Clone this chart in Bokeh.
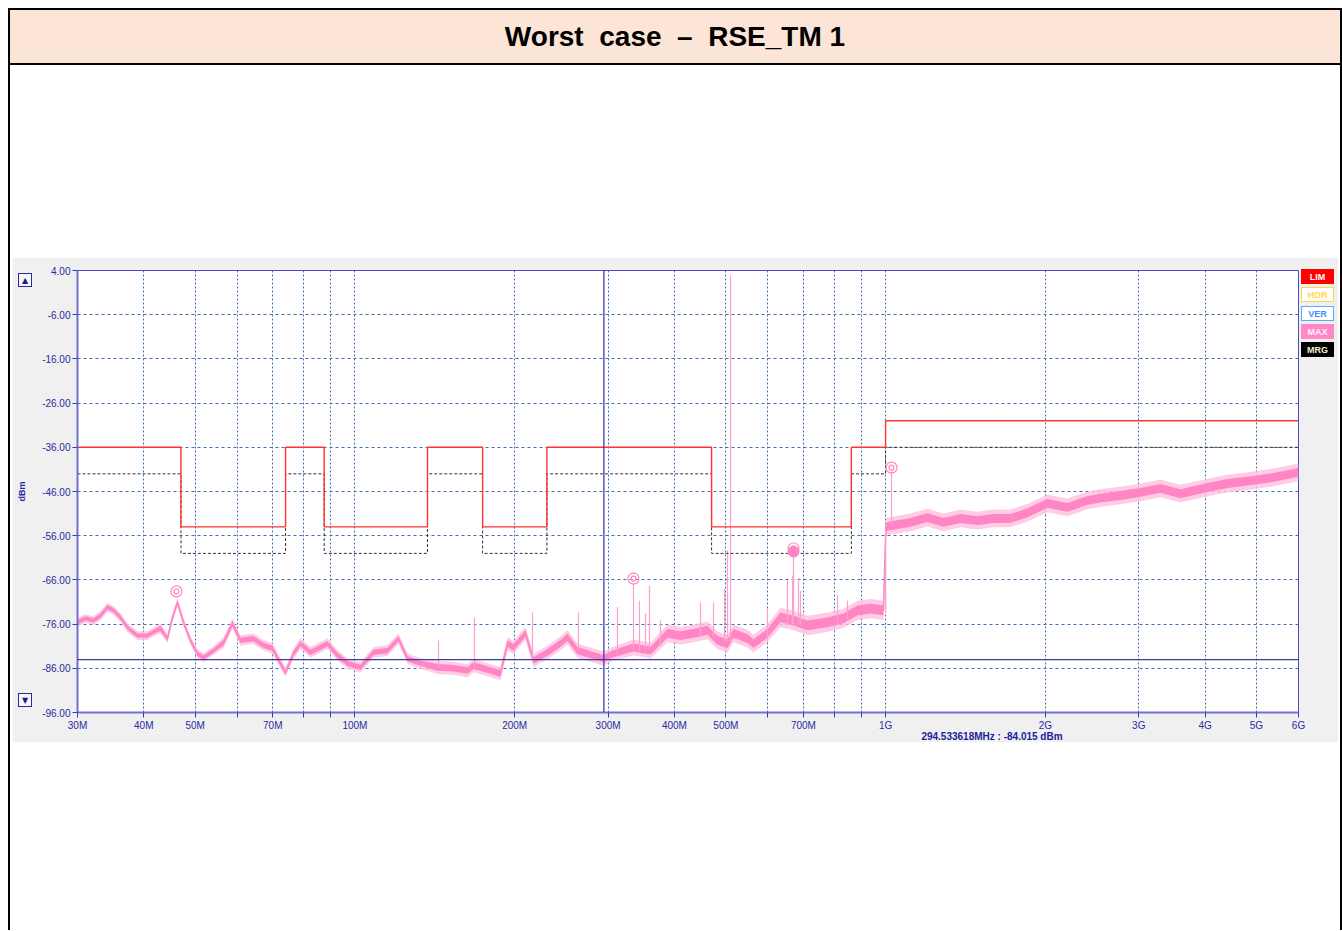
from bokeh.plotting import figure
from bokeh.models import (Range1d, FixedTicker, NumeralTickFormatter, Span, Div)
from bokeh.layouts import column, row
from bokeh.embed import file_html
from bokeh.resources import INLINE

# ---------------- data ----------------
title_text = "Worst  case  \u2013  RSE_TM 1"

x_ticks = [30, 40, 50, 60, 70, 80, 90, 100, 200, 300, 400, 500, 600, 700, 800, 900,
           1000, 2000, 3000, 4000, 5000, 6000]
x_tick_labels = ["30M", "40M", "50M", "", "70M", "", "", "100M", "200M", "300M", "400M",
                 "500M", "", "700M", "", "", "1G", "2G", "3G", "4G", "5G", "6G"]
y_ticks = [4, -6, -16, -26, -36, -46, -56, -66, -76, -86, -96]

# limit (LIM) and margin (MRG) lines, MHz / dBm, step "after"
lim_freq = [30, 47, 74, 87.5, 137, 174, 230, 470, 862, 1000, 6000]
lim_level = [-36, -54, -36, -54, -36, -54, -36, -54, -36, -30, -30]
mrg_level = [-42, -60, -42, -60, -42, -60, -42, -60, -42, -36, -36]

# MAX trace: frequency (MHz), centre level (dBm), band spread (dB)
trace_freq = [30.0, 31.06, 32.16, 33.15, 34.17, 35.07, 36.15, 37.27, 38.92, 40.64, 42.08,
              43.0, 44.33, 45.3, 46.3, 47.52, 48.98, 50.5, 51.83, 54.13, 56.53, 58.78,
              60.85, 64.39, 67.24, 69.92, 72.39, 73.97, 76.58, 78.95, 82.45, 85.36, 88.77,
              92.71, 96.82, 102.4, 108.4, 115.2, 120.8, 125.6, 132.9, 143.1, 153.4, 163.0,
              167.3, 180.1, 188.0, 193.9, 199.0, 209.6, 217.0, 230.6, 243.9, 251.5, 262.6,
              281.5, 294.0, 307.0, 334.9, 360.5, 388.1, 410.6, 434.5, 461.6, 482.2, 503.6,
              516.8, 549.2, 563.7, 598.9, 633.7, 670.6, 712.6, 777.3, 833.1, 885.2, 936.5,
              990.9, 1000.5, 1008, 1114, 1199, 1285, 1384, 1490, 1597, 1719, 1851, 2019,
              2202, 2402, 2574, 2771, 3022, 3296, 3595, 4043, 4409, 4936, 5383, 5871, 6000]
trace_level = [-75.6, -74.7, -75.2, -74.1, -72.2, -72.9, -74.5, -76.8, -78.6, -78.6, -77.5,
               -77.0, -79.3, -74.5, -71.1, -75.6, -79.7, -82.7, -83.6, -82.0, -80.2, -75.9,
               -79.7, -79.3, -80.8, -81.5, -84.9, -86.9, -82.7, -80.4, -82.4, -81.5, -80.4,
               -83.1, -84.9, -85.8, -82.4, -82.0, -79.3, -83.8, -84.9, -85.8, -86.0, -86.5,
               -85.4, -86.5, -87.2, -80.4, -81.3, -78.1, -84.2, -82.4, -80.4, -79.0, -82.0,
               -83.1, -83.8, -82.7, -81.3, -82.0, -78.1, -78.6, -78.1, -77.4, -79.7, -80.4,
               -78.1, -79.3, -80.4, -78.1, -74.5, -75.2, -76.3, -75.6, -74.7, -72.9, -72.5,
               -72.9, -54.5, -53.9, -53.0, -51.9, -53.0, -52.1, -52.6, -52.1, -52.1, -50.8,
               -48.7, -49.6, -48.0, -47.4, -46.9, -46.2, -45.3, -46.5, -45.1, -44.2, -43.5,
               -42.8, -41.9, -41.6]
trace_spread = [1.0, 1.0, 1.0, 1.0, 1.0, 1.0, 1.0, 1.0, 1.0, 1.0, 1.0,
                1.2, 1.0, 1.0, 1.0, 1.0, 1.0, 1.0, 1.0, 1.0, 1.2, 1.2,
                1.2, 1.2, 1.2, 1.2, 1.2, 1.0, 1.2, 1.2, 1.2, 1.2, 1.2,
                1.2, 1.2, 1.2, 1.2, 1.2, 1.2, 1.2, 1.2, 1.5, 1.5, 1.5,
                1.5, 1.5, 1.5, 1.5, 1.5, 1.5, 1.5, 1.5, 1.6, 1.6, 1.6,
                1.6, 1.6, 1.6, 1.8, 1.8, 2.0, 2.0, 2.0, 2.0, 2.0, 2.0,
                2.0, 2.0, 2.0, 2.0, 2.2, 2.2, 2.2, 2.2, 2.2, 2.2, 2.2,
                2.2, 2.0, 2.0, 2.0, 2.0, 2.0, 2.0, 2.0, 2.0, 2.0, 2.0, 2.0,
                2.0, 2.0, 2.0, 2.0, 2.0, 2.0, 2.0, 2.0, 2.0, 2.0, 2.0,
                2.0, 2.0, 2.0]

# narrow spurious peaks: frequency (MHz), peak (dBm), foot (dBm)
spike_freq = [143.7, 168.0, 216.1, 263.8, 312.4, 334.9, 343.7, 352.8, 359.0, 376.5, 447.9,
              473.9, 497.0, 503.6, 510.3, 598.9, 653.3, 667.7, 670.6, 685.3, 691.3, 811.6,
              847.5, 1000.5, 1026]
spike_top = [-79.7, -74.5, -73.4, -73.4, -72.2, -66.8, -70.7, -73.6, -67.3, -75.2, -71.1,
             -71.1, -68.0, -59.3, 2.9, -72.5, -66.1, -65.0, -60.0, -65.5, -68.4, -69.5,
             -70.7, -54.5, -41.5]
spike_foot = [-86, -86, -84, -82, -83, -82, -82, -82, -82, -81, -79,
              -79, -80, -80, -80, -79, -76, -76, -76, -76, -76, -76,
              -75, -73.5, -54]

# peak markers
marker_freq = [46.1, 334.9, 670.6, 1026]
marker_level = [-68.6, -65.7, -58.9, -40.6]
active_freq = [670.6]
active_level = [-59.6]

# cursor
cursor_freq = 294.533618
cursor_level = -84.015
readout = f"{cursor_freq:.6f}MHz : {cursor_level:.3f} dBm"

legend_names = ["LIM", "HOR", "VER", "MAX", "MRG"]
legend_fill = ["#ff0000", "#ffffff", "#ffffff", "#ff88c8", "#000000"]
legend_line = ["#ff0000", "#ffd84a", "#5aa8ff", "#ff88c8", "#000000"]
legend_text = ["#ffffff", "#ffd84a", "#3d8fff", "#fff0f8", "#f5efd5"]

# ---------------- figure ----------------
FONT = "Liberation Sans"
PINK = "#ff85c4"
PINK_LIGHT = "#ffbfe0"
NAVY = "#2a2aa0"

p = figure(width=1326, height=485, x_axis_type="log",
           x_range=Range1d(30, 6000), y_range=Range1d(-96, 4),
           output_backend="svg", toolbar_location=None,
           min_border_left=65, min_border_right=40, min_border_top=13, min_border_bottom=30,
           background_fill_color="white", border_fill_color="#f0f0f0",
           outline_line_color="#4a4ac8", outline_line_width=1, margin=0)

p.xaxis.ticker = FixedTicker(ticks=x_ticks)
p.xaxis.major_label_overrides = {t: l for t, l in zip(x_ticks, x_tick_labels)}
p.yaxis.ticker = FixedTicker(ticks=y_ticks)
p.yaxis.formatter = NumeralTickFormatter(format="0.00")
p.yaxis.axis_label = "dBm"

for ax in (p.xaxis[0], p.yaxis[0]):
    ax.axis_line_color = "#7070d4"
    ax.axis_line_width = 2
    ax.major_tick_line_color = "#3a3ab0"
    ax.major_tick_out = 5
    ax.major_tick_in = 0
    ax.minor_tick_line_color = None
    ax.major_label_text_font = FONT
    ax.major_label_text_font_size = "10px"
    ax.major_label_text_color = NAVY
    ax.major_label_standoff = 2
p.yaxis.axis_label_text_font = FONT
p.yaxis.axis_label_text_font_size = "9px"
p.yaxis.axis_label_text_font_style = "bold"
p.yaxis.axis_label_text_color = NAVY
p.yaxis.axis_label_standoff = 12

p.xgrid.grid_line_color = "#3f6fa8"
p.xgrid.grid_line_dash = "2 2"
p.ygrid.grid_line_color = "#3f6fa8"
p.ygrid.grid_line_dash = "3 3"

# trace: soft outer band, solid core band, centre line, spurious peaks
outer_hi = [c + s for c, s in zip(trace_level, trace_spread)]
outer_lo = [c - s for c, s in zip(trace_level, trace_spread)]
core_hi = [c + s / 2 for c, s in zip(trace_level, trace_spread)]
core_lo = [c - s / 2 for c, s in zip(trace_level, trace_spread)]
p.varea(x=trace_freq, y1=outer_lo, y2=outer_hi, fill_color=PINK_LIGHT, fill_alpha=0.8)
p.varea(x=trace_freq, y1=core_lo, y2=core_hi, fill_color=PINK)
p.line(trace_freq, trace_level, line_color=PINK, line_width=1.5)
p.segment(x0=spike_freq, y0=spike_foot, x1=spike_freq, y1=spike_top,
          line_color="#ff9fd0", line_width=1.2)

# limit / margin
p.step(lim_freq, mrg_level, mode="after", line_color="#333333", line_dash="3 2", line_width=1)
p.step(lim_freq, lim_level, mode="after", line_color="#ff3333", line_width=1.4)

# markers
p.scatter(marker_freq, marker_level, marker="circle", size=11, fill_color=None,
          line_color=PINK, line_width=1.2)
p.scatter(marker_freq, marker_level, marker="circle", size=5, fill_color=None,
          line_color=PINK, line_width=1.2)
p.scatter(active_freq, active_level, marker="circle", size=11, fill_color=PINK,
          line_color=PINK)

# cursor
p.add_layout(Span(location=cursor_freq, dimension="height", line_color="#3b3baa", line_width=1.3))
p.add_layout(Span(location=cursor_level, dimension="width", line_color="#3b3baa", line_width=1.3))

# ---------------- overlay: legend boxes, scroll buttons, cursor readout ----------------
items = []
for i, name in enumerate(legend_names):
    top = 12 + round(i * 18.3)
    items.append(
        f'<div style="position:absolute;left:1289px;top:{top}px;width:33px;height:15px;'
        f'box-sizing:border-box;background:{legend_fill[i]};border:1px solid {legend_line[i]};'
        f'color:{legend_text[i]};font:bold 9px \'Liberation Sans\',Arial,sans-serif;'
        f'display:flex;align-items:center;justify-content:center;">{name}</div>')
for top, glyph in ((16, "\u25b2"), (436, "\u25bc")):
    items.append(
        f'<div style="position:absolute;left:6px;top:{top}px;width:14px;height:14px;'
        f'box-sizing:border-box;background:#f6f6f6;border:1px solid #2a2a9a;color:#1a1a8a;'
        f'font:8px \'DejaVu Sans\',sans-serif;display:flex;align-items:center;'
        f'justify-content:center;">{glyph}</div>')
items.append(
    f'<div style="position:absolute;left:830px;top:473px;width:300px;height:13px;'
    f'text-align:center;color:#1c1c9c;font:bold 10px \'Liberation Sans\',Arial,sans-serif;'
    f'line-height:13px;white-space:nowrap;">{readout}</div>')
overlay = Div(text=('<div style="position:relative;width:1326px;height:485px;'
                    'pointer-events:none;">' + "".join(items) + '</div>'),
              width=1326, height=485, margin=(0, 0, 0, -1326),
              styles={"z-index": "10", "position": "relative"})
panel = row(p, overlay, spacing=0, margin=0)

# ---------------- page frame ----------------
title_div = Div(
    text=('<div style="width:1334px;height:57px;box-sizing:border-box;border:2px solid #000;'
          'background:#fce4d6;display:flex;align-items:center;justify-content:center;'
          'font:bold 28px Arial, \'Liberation Sans\', sans-serif;white-space:pre;color:#000;">'
          + title_text + '</div>'),
    width=1334, height=57, margin=0)

BODY_H = 865
left_div = Div(text=f'<div style="width:4px;height:{BODY_H}px;box-sizing:border-box;'
                    'border-left:2px solid #000;background:#fff;"></div>',
               width=4, height=BODY_H, margin=0)
right_div = Div(text=f'<div style="width:4px;height:{BODY_H}px;box-sizing:border-box;'
                     'border-right:2px solid #000;background:#fff;"></div>',
                width=4, height=BODY_H, margin=0)
top_gap = Div(text='<div style="width:1326px;height:192px;background:#fff;"></div>',
              width=1326, height=192, margin=0)
bottom_gap = Div(text='<div style="width:1326px;height:188px;background:#fff;"></div>',
                 width=1326, height=188, margin=0)

body = row(left_div, column(top_gap, panel, bottom_gap, spacing=0, margin=0), right_div,
           spacing=0, margin=0)
layout = column(title_div, body, spacing=0, margin=(8, 0, 0, 8))

open("out.html", "w").write(file_html(layout, INLINE))
